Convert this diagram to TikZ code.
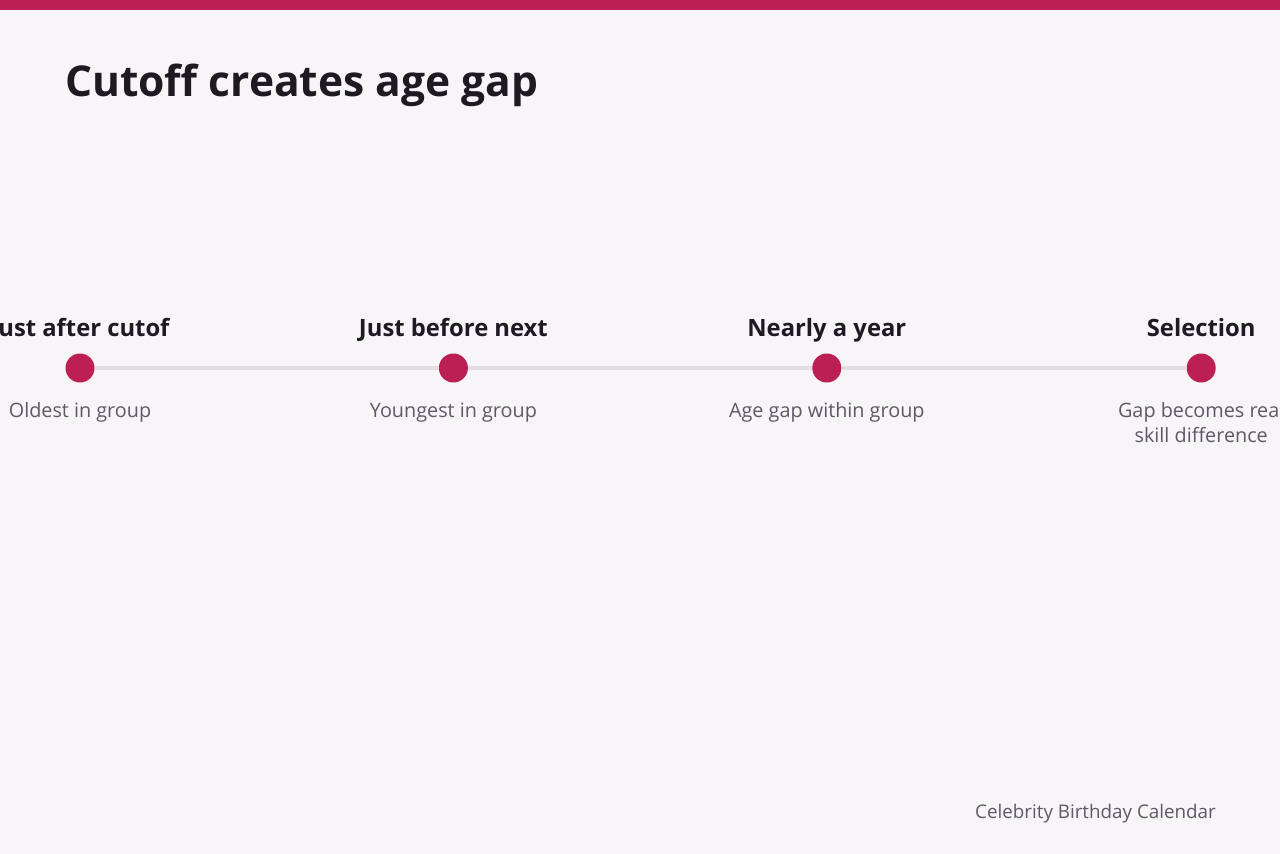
\documentclass[tikz,border=0pt]{standalone}
\usepackage{fontspec}
\setmainfont{Open Sans}
\usepackage{xcolor}
\usetikzlibrary{positioning}
\definecolor{brand}{HTML}{BC1F53}
\definecolor{paper}{HTML}{F7F5F8}
\definecolor{ink}{HTML}{1E1A22}
\definecolor{muted}{HTML}{5E5964}
\definecolor{track}{HTML}{E0DDE3}

\begin{document}
\begin{tikzpicture}[x=1pt, y=-1pt,
    dot/.style={circle, fill=brand, minimum size=29pt, inner sep=0pt},
    head/.style={inner sep=0pt, text depth=0pt, text=ink, font=\fontsize{23.8}{28}\selectfont\bfseries},
    note/.style={inner sep=0pt, text=muted, align=center, font=\fontsize{19.8}{25}\selectfont},
    rail/.style={draw=track, line width=4pt}]
    \useasboundingbox (0,0) rectangle (1280,854);
    \clip (0,0) rectangle (1280,854);
    \fill[paper] (0,0) rectangle (1280,854);
    \fill[brand] (0,0) rectangle (1280,10);
    \node[anchor=base west, inner sep=0pt, text=ink, font=\fontsize{42.5}{50}\selectfont\bfseries] (title) at (65,96) {Cutoff creates age gap};
    % timeline stops
    \node[dot] (d1) at (80,368) {};
    \node[dot, right=344pt of d1] (d2) {};
    \node[dot, right=344pt of d2] (d3) {};
    \node[dot, right=345pt of d3] (d4) {};
    \draw[rail] (d1) -- (d2);
    \draw[rail] (d2) -- (d3);
    \draw[rail] (d3) -- (d4);
    \node[head, above=17pt of d1] (h1) {Just after cutof};
    \node[head, above=17pt of d2] (h2) {Just before next};
    \node[head, above=17pt of d3] (h3) {Nearly a year};
    \node[head, above=17pt of d4] (h4) {Selection};
    \node[note, below=20pt of d1] (n1) {Oldest in group};
    \node[note, below=20pt of d2] (n2) {Youngest in group};
    \node[note, below=20pt of d3] (n3) {Age gap within group};
    \node[note, below=20pt of d4] (n4) {Gap becomes real\\skill difference};
    \node[anchor=base east, inner sep=0pt, text=muted, font=\fontsize{18.8}{22}\selectfont] (foot) at (1216,818) {Celebrity Birthday Calendar};
\end{tikzpicture}
\end{document}
